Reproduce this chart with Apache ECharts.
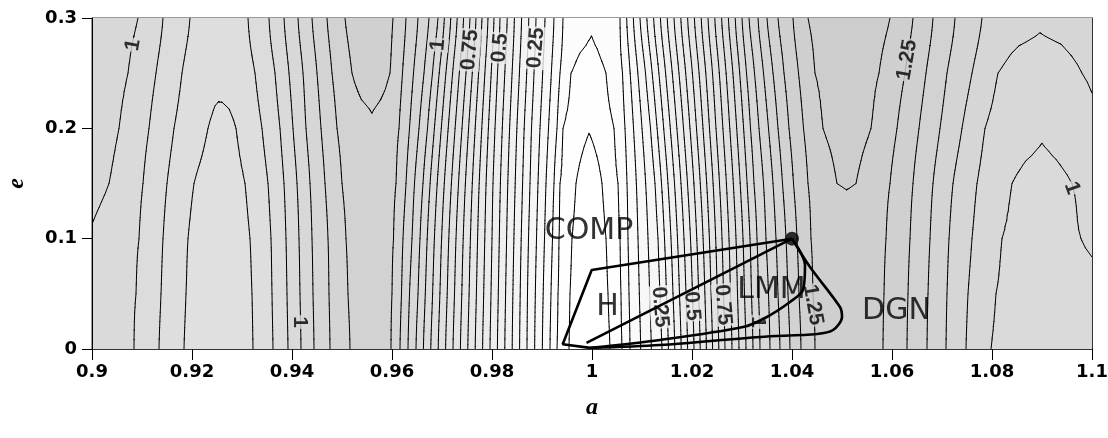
<!DOCTYPE html>
<html><head><meta charset="utf-8"><title>contour</title>
<script src="https://cdn.jsdelivr.net/npm/echarts@6/dist/echarts.min.js"></script>
<style>html,body{margin:0;padding:0;background:#fff}#c{width:1108px;height:438px}</style>
</head><body><div id="c"></div><script>
// ---- data ----
const eRows = [0, 0.05, 0.1, 0.15, 0.2, 0.25, 0.3];
// knots: [a, value] along each e row
const knots_e000 = [[0.9,0.97],[0.9084,0.95],[0.9134,0.9],[0.9184,0.85],[0.9219,0.82],[0.9253,0.81],[0.9287,0.82],[0.9322,0.85],[0.9362,0.9],[0.9392,0.95],[0.9418,1.0],[0.9444,1.05],[0.9476,1.1],[0.9516,1.15],[0.9536,1.169],[0.9556,1.175],[0.9577,1.169],[0.9598,1.15],[0.9616,1.1],[0.9632,1.05],[0.9648,1.0],[0.9722,0.75],[0.9796,0.5],[0.987,0.25],[0.9916,0.1],[0.993,0.05],[0.9954,0.025],[0.9996,0.0],[1.0036,0.025],[1.006,0.05],[1.0076,0.1],[1.014,0.25],[1.0204,0.5],[1.0266,0.75],[1.0336,1.0],[1.0356,1.05],[1.0376,1.1],[1.0396,1.15],[1.0418,1.2],[1.0446,1.25],[1.048,1.273],[1.0514,1.28],[1.0548,1.273],[1.0582,1.25],[1.063,1.2],[1.067,1.15],[1.0708,1.1],[1.0748,1.05],[1.0798,1.0],[1.0846,0.981],[1.0896,0.975],[1.1,0.985]];
const knots_e005 = [[0.9,0.98],[0.9088,0.95],[0.9138,0.9],[0.9188,0.85],[0.9221,0.825],[0.9254,0.815],[0.9287,0.825],[0.932,0.85],[0.936,0.9],[0.939,0.95],[0.9416,1.0],[0.9442,1.05],[0.9474,1.1],[0.9512,1.15],[0.9534,1.1713],[0.9556,1.177],[0.9578,1.1713],[0.96,1.15],[0.9619,1.1],[0.9635,1.05],[0.9652,1.0],[0.9725,0.75],[0.9798,0.5],[0.9871,0.25],[0.9918,0.1],[0.9932,0.05],[0.9956,0.025],[0.9996,0.003],[1.0032,0.025],[1.0058,0.05],[1.0074,0.1],[1.0136,0.25],[1.0201,0.5],[1.0263,0.75],[1.0333,1.0],[1.0353,1.05],[1.0372,1.1],[1.0392,1.15],[1.0414,1.2],[1.0442,1.25],[1.0478,1.2745],[1.0514,1.282],[1.0549,1.2745],[1.0584,1.25],[1.0632,1.2],[1.0672,1.15],[1.071,1.1],[1.0752,1.05],[1.0808,1.0],[1.0852,0.985],[1.0896,0.98],[1.1,0.99]];
const knots_e010 = [[0.9,0.995],[0.9094,0.95],[0.9142,0.9],[0.9192,0.85],[0.9223,0.8275],[0.9254,0.82],[0.9285,0.8275],[0.9316,0.85],[0.9358,0.9],[0.9388,0.95],[0.9414,1.0],[0.944,1.05],[0.9472,1.1],[0.9508,1.15],[0.9532,1.1725],[0.9556,1.18],[0.958,1.1725],[0.9603,1.15],[0.9622,1.1],[0.964,1.05],[0.9656,1.0],[0.9728,0.75],[0.98,0.5],[0.9873,0.25],[0.9921,0.1],[0.9934,0.05],[0.996,0.025],[0.9996,0.008],[1.0028,0.025],[1.0056,0.05],[1.0072,0.1],[1.0132,0.25],[1.0197,0.5],[1.026,0.75],[1.033,1.0],[1.0348,1.05],[1.0368,1.1],[1.0388,1.15],[1.041,1.2],[1.0438,1.25],[1.0476,1.2763],[1.0514,1.285],[1.0551,1.2763],[1.0588,1.25],[1.0636,1.2],[1.0676,1.15],[1.0714,1.1],[1.076,1.05],[1.082,1.0],[1.0856,0.99],[1.0896,0.985],[1.0936,0.99],[1.0978,1.0],[1.1,1.005]];
const knots_e015 = [[0.9,1.015],[0.9034,1.0],[0.9102,0.95],[0.915,0.9],[0.9204,0.85],[0.923,0.835],[0.9255,0.83],[0.928,0.835],[0.9306,0.85],[0.9352,0.9],[0.9384,0.95],[0.941,1.0],[0.9436,1.05],[0.9466,1.1],[0.95,1.15],[0.9528,1.176],[0.9556,1.185],[0.9582,1.176],[0.9608,1.15],[0.9628,1.1],[0.9645,1.05],[0.9662,1.0],[0.9733,0.75],[0.9802,0.5],[0.9876,0.25],[0.9924,0.1],[0.9936,0.05],[0.9968,0.025],[0.9996,0.016],[1.002,0.025],[1.0052,0.05],[1.007,0.1],[1.0126,0.25],[1.0191,0.5],[1.0255,0.75],[1.0324,1.0],[1.0343,1.05],[1.0362,1.1],[1.0381,1.15],[1.0403,1.2],[1.0432,1.25],[1.049,1.3],[1.0509,1.302],[1.0528,1.3],[1.0596,1.25],[1.0642,1.2],[1.0682,1.15],[1.0722,1.1],[1.077,1.05],[1.084,1.0],[1.0868,0.9925],[1.0898,0.99],[1.0928,0.9925],[1.096,1.0],[1.1,1.015]];
const knots_e020 = [[0.9,1.03],[0.9054,1.0],[0.9114,0.95],[0.9164,0.9],[0.9232,0.85],[0.9246,0.8425],[0.926,0.84],[0.9274,0.8425],[0.9288,0.85],[0.934,0.9],[0.9376,0.95],[0.9402,1.0],[0.9428,1.05],[0.9458,1.1],[0.949,1.15],[0.9525,1.184],[0.956,1.195],[0.9587,1.184],[0.9614,1.15],[0.9635,1.1],[0.9654,1.05],[0.9671,1.0],[0.974,0.75],[0.9806,0.5],[0.9879,0.25],[0.993,0.1],[0.9942,0.05],[0.9968,0.032],[0.9994,0.026],[1.0019,0.032],[1.0044,0.05],[1.0066,0.1],[1.0117,0.25],[1.0183,0.5],[1.0248,0.75],[1.0317,1.0],[1.0334,1.05],[1.0353,1.1],[1.0372,1.15],[1.0394,1.2],[1.0423,1.25],[1.0462,1.3],[1.0486,1.3113],[1.051,1.315],[1.0534,1.3113],[1.0558,1.3],[1.061,1.25],[1.0654,1.2],[1.0696,1.15],[1.074,1.1],[1.0786,1.05],[1.0842,1.02],[1.09,1.005],[1.0958,1.02],[1.1,1.04]];
const knots_e025 = [[0.9,1.035],[0.9072,1.0],[0.9128,0.95],[0.918,0.9],[0.9216,0.87],[0.9253,0.86],[0.929,0.87],[0.9326,0.9],[0.9366,0.95],[0.9394,1.0],[0.9422,1.05],[0.945,1.1],[0.948,1.15],[0.952,1.2],[0.9539,1.2113],[0.9558,1.215],[0.9577,1.2113],[0.9596,1.2],[0.9621,1.15],[0.9643,1.1],[0.9664,1.05],[0.9681,1.0],[0.9748,0.75],[0.9811,0.5],[0.9884,0.25],[0.9936,0.1],[0.9958,0.05],[0.9976,0.0425],[0.9993,0.04],[1.001,0.0425],[1.0028,0.05],[1.0061,0.1],[1.0107,0.25],[1.0174,0.5],[1.0241,0.75],[1.0309,1.0],[1.0325,1.05],[1.0343,1.1],[1.0362,1.15],[1.0384,1.2],[1.0413,1.25],[1.0446,1.3],[1.0478,1.315],[1.051,1.32],[1.0542,1.315],[1.0574,1.3],[1.0626,1.25],[1.0668,1.2],[1.071,1.15],[1.076,1.1],[1.0812,1.05],[1.0854,1.035],[1.0896,1.03],[1.0938,1.035],[1.098,1.05],[1.1,1.055]];
const knots_e030 = [[0.9,1.04],[0.9092,1.0],[0.9142,0.95],[0.9196,0.9],[0.9225,0.8812],[0.9254,0.875],[0.9283,0.8812],[0.9312,0.9],[0.9354,0.95],[0.9384,1.0],[0.9412,1.05],[0.944,1.1],[0.947,1.15],[0.9506,1.2],[0.953,1.2225],[0.9554,1.23],[0.9578,1.2225],[0.9602,1.2],[0.9628,1.15],[0.9652,1.1],[0.9674,1.05],[0.9692,1.0],[0.9756,0.75],[0.9816,0.5],[0.9888,0.25],[0.9942,0.1],[0.9969,0.065],[0.9999,0.053],[1.0027,0.065],[1.0056,0.1],[1.0096,0.25],[1.0164,0.5],[1.0232,0.75],[1.03,1.0],[1.0314,1.05],[1.0332,1.1],[1.035,1.15],[1.0372,1.2],[1.0402,1.25],[1.0432,1.3],[1.0473,1.3225],[1.0514,1.33],[1.0555,1.3225],[1.0596,1.3],[1.0642,1.25],[1.0682,1.2],[1.0726,1.15],[1.078,1.1],[1.0838,1.066],[1.0896,1.055],[1.1,1.07]];
const contourLevels = [0.025,0.05,0.1,0.15,0.2,0.25,0.3,0.35,0.4,0.45,0.5,0.55,0.6,0.65,0.7,0.75,0.8,0.85,0.9,0.95,1,1.05,1.1,1.15,1.2,1.25,1.3,1.35];
const labelPos = [[0.9082,0.2755],[0.9692,0.2755],[0.9756,0.271],[0.9816,0.2728],[0.9888,0.2728],[1.063,0.262],[0.9416,0.0245],[1.0136,0.038],[1.02,0.039],[1.0262,0.04],[1.0332,0.0245],[1.0442,0.0399],[1.096,0.146]];
const labelText = ['1','1','0.75','0.5','0.25','1.25','1','0.25','0.5','0.75','1','1.25','1'];
const labelLevel = [1,1,0.75,0.5,0.25,1.25,1,0.25,0.5,0.75,1,1.25,1];
const labelAngle = [80,85,85,85,85,80,-90,-85,-85,-85,-90,-80,-70];
const regionNames = ['COMP','H','LMM','DGN'];
const regionPos = [[0.9994,0.1072],[1.0031,0.0383],[1.0359,0.0535],[1.0609,0.0344]];
const boundaryH = [[1.04,0.1],[0.99994,0.0716],[0.99414,0.0043],[0.9996,0.001]];
const boundaryDiag = [[0.9989,0.0055],[1.04,0.1]];
const boundaryLMM = [[0.9996,0.001],[1.0136,0.0082],[1.0302,0.0199],[1.0346,0.0281],[1.0396,0.0426],[1.0422,0.0535],[1.0426,0.0761],[1.04,0.1]];
const boundaryDGN = [[1.04,0.1],[1.0436,0.0743],[1.0496,0.038],[1.05,0.029],[1.0482,0.0172],[1.045,0.0136],[1.0336,0.0109],[1.0136,0.0036],[0.9996,0.0009]];
const markerPoint = [[1.04,0.1]];

// ---- contouring (renderer side) ----
const rows = [knots_e000, knots_e005, knots_e010, knots_e015, knots_e020, knots_e025, knots_e030];
function evalRow(k, a){
  if (a <= k[0][0]) return k[0][1];
  for (let i=0;i<k.length-1;i++){
    if (a <= k[i+1][0]){ const t=(a-k[i][0])/(k[i+1][0]-k[i][0]); return k[i][1]+t*(k[i+1][1]-k[i][1]); }
  }
  return k[k.length-1][1];
}
const bandEdges = [-Infinity, ...contourLevels, Infinity];
function bandValue(k){
  if (k===0) return contourLevels[0]/2;
  if (k===bandEdges.length-2) return contourLevels[contourLevels.length-1]+0.025;
  return (bandEdges[k]+bandEdges[k+1])/2;
}
function grey(v){ const g=Math.round(Math.max(195,Math.min(255,255-38*v))); return 'rgb('+g+','+g+','+g+')'; }
const bandPolys = bandEdges.slice(0,-1).map(()=>[]);
const segs = [];
function clip(poly, level, above){
  const out=[];
  for (let i=0;i<poly.length;i++){
    const p=poly[i], q=poly[(i+1)%poly.length];
    const pin = above ? p[2]>=level : p[2]<=level;
    const qin = above ? q[2]>=level : q[2]<=level;
    if (pin) out.push(p);
    if (pin!==qin){ const t=(level-p[2])/(q[2]-p[2]); out.push([p[0]+t*(q[0]-p[0]), p[1]+t*(q[1]-p[1]), level]); }
  }
  return out;
}
function processTri(tri){
  const ar=(tri[1][0]-tri[0][0])*(tri[2][1]-tri[0][1])-(tri[2][0]-tri[0][0])*(tri[1][1]-tri[0][1]);
  if (ar<0) tri=[tri[0],tri[2],tri[1]];
  const vs=tri.map(p=>p[2]); const vmin=Math.min(...vs), vmax=Math.max(...vs);
  for (let k=0;k<bandEdges.length-1;k++){
    const lo=bandEdges[k], hi=bandEdges[k+1];
    if (hi<vmin || lo>vmax) continue;
    let poly=tri;
    if (lo>-Infinity) poly=clip(poly,lo,true);
    if (poly.length>=3 && hi<Infinity) poly=clip(poly,hi,false);
    if (poly.length>=3) bandPolys[k].push(poly);
  }
  for (const L of contourLevels){
    if (L<vmin || L>vmax) continue;
    const pts=[];
    for (let i=0;i<3;i++){
      const p=tri[i], q=tri[(i+1)%3];
      if ((p[2]>L)!==(q[2]>L)){ const t=(L-p[2])/(q[2]-p[2]); pts.push([p[0]+t*(q[0]-p[0]), p[1]+t*(q[1]-p[1])]); }
    }
    if (pts.length===2) segs.push(pts);
  }
}
// smooth (Catmull-Rom) between rows, linear along each row
const cols=[...new Set(rows.flat().map(k=>+k[0].toFixed(6)))].sort((x,y)=>x-y);
const V=rows.map(r=>cols.map(a=>evalRow(r,a)));
const SUB=6;
function rowAt(s, t){
  const n=rows.length, i0=Math.max(0,s-1), i1=s, i2=Math.min(n-1,s+1), i3=Math.min(n-1,s+2);
  const t2=t*t, t3=t2*t;
  return cols.map((_,j)=>{
    const p0=V[i0][j], p1=V[i1][j], p2=V[i2][j], p3=V[i3][j];
    return 0.5*((2*p1)+(-p0+p2)*t+(2*p0-5*p1+4*p2-p3)*t2+(-p0+3*p1-3*p2+p3)*t3);
  });
}
const subE=[], subV=[];
for (let s=0;s<rows.length-1;s++){
  for (let k=0;k<SUB;k++){ subE.push(eRows[s]+(eRows[s+1]-eRows[s])*k/SUB); subV.push(rowAt(s,k/SUB)); }
}
subE.push(eRows[rows.length-1]); subV.push(V[rows.length-1]);
for (let r=0;r<subE.length-1;r++){
  const e0=subE[r], e1=subE[r+1], v0=subV[r], v1=subV[r+1];
  for (let j=0;j<cols.length-1;j++){
    const A=[cols[j],e0,v0[j]], B=[cols[j+1],e0,v0[j+1]], C=[cols[j+1],e1,v1[j+1]], D=[cols[j],e1,v1[j]];
    if (Math.abs(A[2]-C[2])<=Math.abs(B[2]-D[2])){ processTri([A,B,C]); processTri([A,C,D]); }
    else { processTri([A,B,D]); processTri([B,C,D]); }
  }
}

const chart = echarts.init(document.getElementById('c'), null, {renderer:'canvas'});
const fmt = v => String(+(+v).toFixed(2));
const tickFont = {fontFamily:'DejaVu Sans', fontWeight:'bold', fontSize:18, color:'#000'};
const lineSeries = (pts, sm) => ({type:'line', data:pts, symbol:'none', smooth:sm||false, silent:true, z:6, lineStyle:{color:'#000', width:2.6}, animation:false});
chart.setOption({
  animation:false,
  backgroundColor:'#fff',
  grid:{left:92, right:16, top:18, bottom:89, outerBoundsMode:'none', containLabel:false, show:true, backgroundColor:'#dcdcdc', borderColor:'#333', borderWidth:1},
  xAxis:[{type:'value', min:0.9, max:1.1, interval:0.02, z:8,
    axisLine:{show:true, lineStyle:{color:'#000', width:1}},
    axisTick:{show:true, length:11, lineStyle:{color:'#000'}},
    splitLine:{show:false},
    axisLabel:Object.assign({margin:14, formatter:fmt}, tickFont),
    name:'a', nameLocation:'middle', nameGap:47,
    nameTextStyle:{fontFamily:'Liberation Serif', fontStyle:'italic', fontWeight:'bold', fontSize:24, color:'#000'}},
   {type:'value', position:'top', min:0.9, max:1.1, z:8, axisLine:{show:true, lineStyle:{color:'#333'}}, axisTick:{show:false}, axisLabel:{show:false}, splitLine:{show:false}}],
  yAxis:[{type:'value', min:0, max:0.3, interval:0.1, z:8,
    axisLine:{show:true, lineStyle:{color:'#000', width:1}},
    axisTick:{show:true, length:10, lineStyle:{color:'#000'}},
    splitLine:{show:false},
    axisLabel:Object.assign({margin:15, formatter:fmt}, tickFont),
    name:'e', nameLocation:'middle', nameGap:63,
    nameTextStyle:{fontFamily:'Liberation Serif', fontStyle:'italic', fontWeight:'bold', fontSize:24, color:'#000'}},
   {type:'value', position:'right', min:0, max:0.3, z:8, axisLine:{show:true, lineStyle:{color:'#333'}}, axisTick:{show:false}, axisLabel:{show:false}, splitLine:{show:false}}],
  series:[
    {type:'custom', coordinateSystem:'cartesian2d', data:[[0.9,0]], clip:true, silent:true, z:1,
     renderItem:(params, api)=>{
       const children=[];
       bandPolys.forEach((polys,k)=>{
         if (!polys.length) return;
         const parts=[];
         for (const poly of polys){ let d=''; poly.forEach((p,i)=>{ const c=api.coord([p[0],p[1]]); d+=(i?'L':'M')+c[0].toFixed(2)+' '+c[1].toFixed(2); }); parts.push(d+'Z'); }
         children.push({type:'path', shape:{pathData:parts.join('')}, style:{fill:grey(bandValue(k)), stroke:null}});
       });
       return {type:'group', children};
     }},
    {type:'custom', coordinateSystem:'cartesian2d', data:[[0.9,0]], clip:true, silent:true, z:3,
     renderItem:(params, api)=>{
       const parts=[];
       for (const s of segs){ const c1=api.coord(s[0]), c2=api.coord(s[1]); parts.push('M'+c1[0].toFixed(2)+' '+c1[1].toFixed(2)+'L'+c2[0].toFixed(2)+' '+c2[1].toFixed(2)); }
       return {type:'path', shape:{pathData:parts.join('')}, style:{fill:'none', stroke:'#000', lineWidth:1, lineCap:'round'}};
     }},
    {type:'scatter', symbolSize:1, silent:true, z:4, itemStyle:{color:'rgba(0,0,0,0)'},
     data: labelPos.map((p,i)=>({value:p, label:{show:true, position:'inside', rotate:labelAngle[i], formatter:labelText[i],
       fontFamily:'Liberation Sans Narrow, Liberation Sans', fontWeight:'bold', fontSize:21, color:'#000',
       backgroundColor:grey(labelLevel[i]+0.025), padding:[0,1]}}))},
    lineSeries(boundaryH), lineSeries(boundaryDiag), lineSeries(boundaryLMM, 0.3), lineSeries(boundaryDGN, 0.3),
    {type:'scatter', data:markerPoint, symbol:'circle', symbolSize:14, silent:true, z:7, itemStyle:{color:'#000'}},
    {type:'scatter', symbolSize:1, silent:true, z:7, itemStyle:{color:'rgba(0,0,0,0)'},
     data: regionPos.map((p,i)=>({value:p, label:{show:true, position:'inside', formatter:regionNames[i],
       fontFamily:'DejaVu Sans', fontSize:30, color:'#000'}}))}
  ]
});
</script></body></html>
